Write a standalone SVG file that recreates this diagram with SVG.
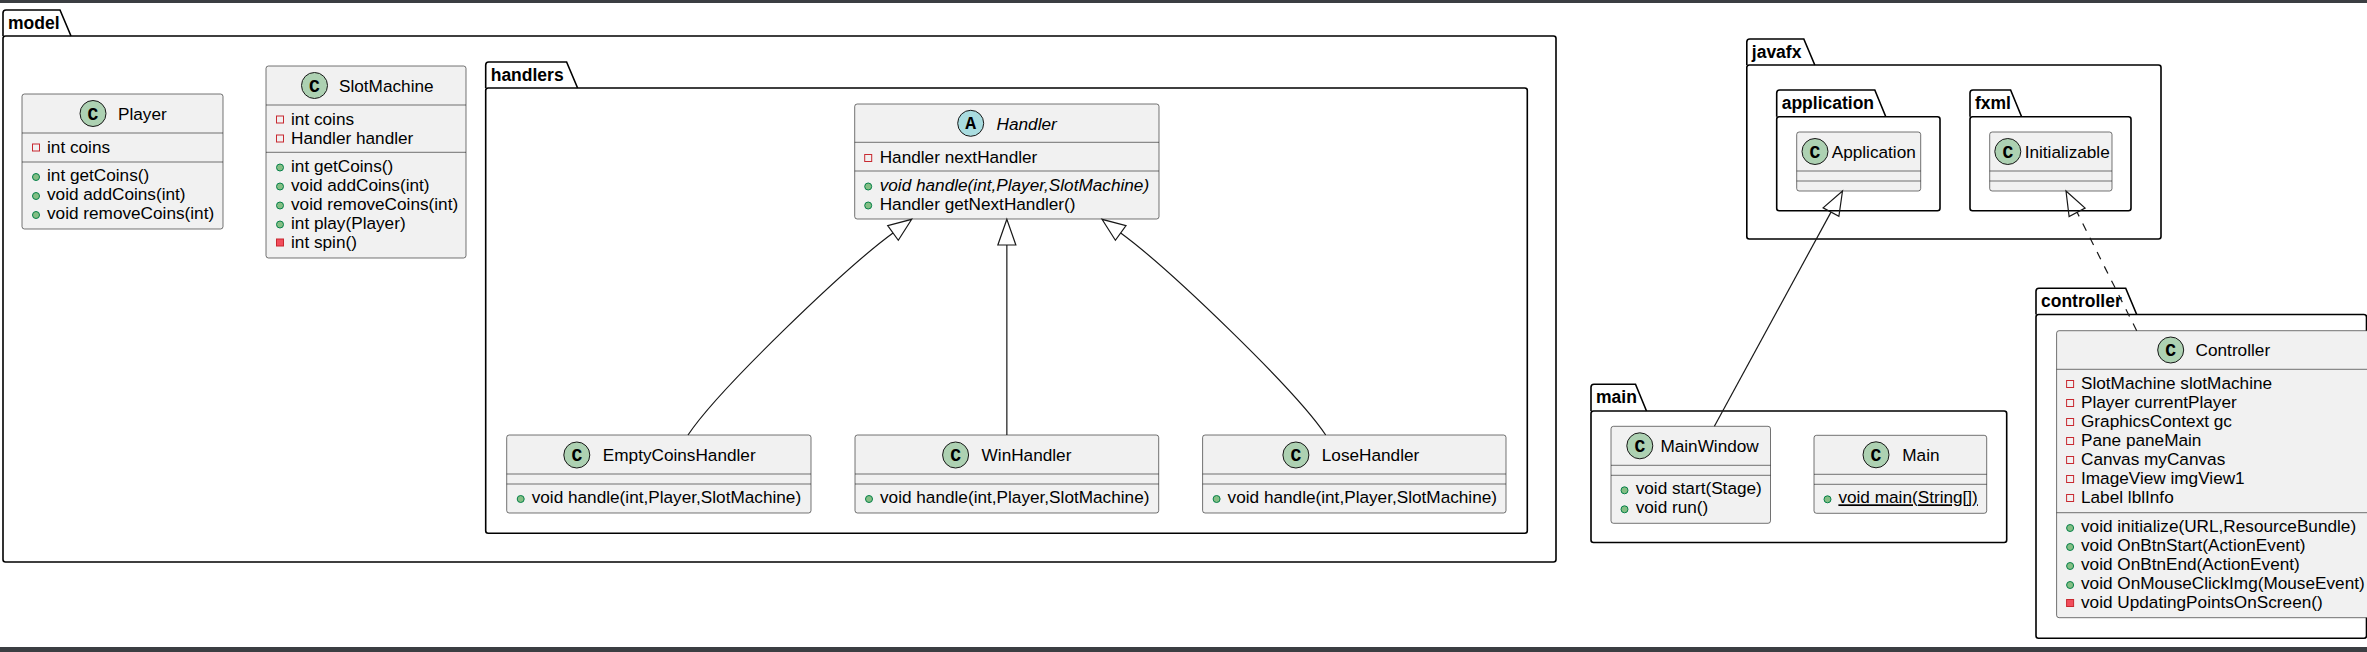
<svg xmlns="http://www.w3.org/2000/svg" width="2367" height="652" viewBox="0 0 2367 652">
<style>
.pkg{fill:none;stroke:#000;stroke-width:1.6}
.pl{font-family:"Liberation Sans",Arial,sans-serif;font-weight:bold;font-size:17.5px;fill:#000}
.box{fill:#F1F1F1;stroke:#181818;stroke-width:0.6}
.sep{stroke:#181818;stroke-width:0.6}
.t{font-family:"Liberation Sans",Arial,sans-serif;font-size:17.2px;fill:#000}
.i{font-style:italic}
.cc{fill:#ADD1B2;stroke:#181818;stroke-width:1}
.ca{fill:#A9DCDF;stroke:#181818;stroke-width:1}
.lt{font-family:"Liberation Mono","DejaVu Sans Mono",monospace;font-weight:bold;font-size:18px;fill:#000;text-anchor:middle}
.pf{fill:none;stroke:#C82930;stroke-width:1}
.pm{fill:#F24D5C;stroke:#C82930;stroke-width:1}
.pu{fill:#84BE84;stroke:#038048;stroke-width:1}
.edge{fill:none;stroke:#181818;stroke-width:1.2}
.dash{stroke-dasharray:8,8}
.head{fill:none;stroke:#181818;stroke-width:1.2}
.bar{fill:#3b3e42}
</style>
<rect x="0" y="0" width="2367" height="652" fill="#FFFFFF"/>
<rect class="bar" x="0" y="0" width="2367" height="3"/>
<rect class="bar" x="0" y="647" width="2367" height="5"/>

<g id="pkg-model">
<rect class="pkg" x="3" y="36" width="1553" height="526" rx="2.5"/>
<path class="pkg" d="M3,36 V13 Q3,10 6,10 H60 L71,36"/>
<text class="pl" x="8" y="28.5">model</text>
</g>
<g id="pkg-handlers">
<rect class="pkg" x="485.7" y="88" width="1041.6" height="445.3" rx="2.5"/>
<path class="pkg" d="M485.7,88 V65 Q485.7,62 488.7,62 H566.6 L577.6,88"/>
<text class="pl" x="490.7" y="80.5">handlers</text>
</g>
<g id="pkg-javafx">
<rect class="pkg" x="1746.8" y="65" width="414.2" height="174" rx="2.5"/>
<path class="pkg" d="M1746.8,65 V42 Q1746.8,39 1749.8,39 H1803.8 L1814.8,65"/>
<text class="pl" x="1751.8" y="57.5">javafx</text>
</g>
<g id="pkg-application">
<rect class="pkg" x="1776.7" y="116.7" width="163.3" height="94" rx="2.5"/>
<path class="pkg" d="M1776.7,116.7 V93 Q1776.7,90 1779.7,90 H1874.8 L1885.8,116.7"/>
<text class="pl" x="1781.7" y="108.5">application</text>
</g>
<g id="pkg-fxml">
<rect class="pkg" x="1970" y="116.7" width="161" height="94" rx="2.5"/>
<path class="pkg" d="M1970,116.7 V93 Q1970,90 1973,90 H2010.6 L2021.6,116.7"/>
<text class="pl" x="1975" y="108.5">fxml</text>
</g>
<g id="pkg-main">
<rect class="pkg" x="1591" y="411" width="415.7" height="131.5" rx="2.5"/>
<path class="pkg" d="M1591,411 V387.3 Q1591,384.3 1594,384.3 H1635.5 L1646.5,411"/>
<text class="pl" x="1596" y="402.8">main</text>
</g>
<g id="pkg-controller">
<rect class="pkg" x="2036" y="314.5" width="330.5" height="323.8" rx="2.5"/>
<path class="pkg" d="M2036,314.5 V291.3 Q2036,288.3 2039,288.3 H2125.7 L2136.7,314.5"/>
<text class="pl" x="2041" y="306.8">controller</text>
</g>

<g id="Player">
<rect class="box" x="22" y="94" width="201" height="135" rx="2.5"/>
<line class="sep" x1="22" y1="133" x2="223" y2="133"/>
<line class="sep" x1="22" y1="162" x2="223" y2="162"/>
<circle class="cc" cx="93" cy="113.5" r="13"/>
<text class="lt" x="93" y="119.5">C</text>
<text class="t" x="118" y="119.5">Player</text>
<rect class="pf" x="32.5" y="144" width="7" height="7"/>
<text class="t" x="47" y="152.5">int coins</text>
<circle class="pu" cx="36" cy="177" r="3.5"/>
<text class="t" x="47" y="181">int getCoins()</text>
<circle class="pu" cx="36" cy="196" r="3.5"/>
<text class="t" x="47" y="200">void addCoins(int)</text>
<circle class="pu" cx="36" cy="215" r="3.5"/>
<text class="t" x="47" y="219">void removeCoins(int)</text>
</g>

<g id="SlotMachine">
<rect class="box" x="266" y="66" width="200" height="192" rx="2.5"/>
<line class="sep" x1="266" y1="105" x2="466" y2="105"/>
<line class="sep" x1="266" y1="152.3" x2="466" y2="152.3"/>
<circle class="cc" cx="314.5" cy="85.5" r="13"/>
<text class="lt" x="314.5" y="91.5">C</text>
<text class="t" x="339" y="91.5">SlotMachine</text>
<rect class="pf" x="276.5" y="116" width="7" height="7"/>
<text class="t" x="291" y="124.5">int coins</text>
<rect class="pf" x="276.5" y="135" width="7" height="7"/>
<text class="t" x="291" y="143.5">Handler handler</text>
<circle class="pu" cx="280" cy="167.5" r="3.5"/>
<text class="t" x="291" y="171.5">int getCoins()</text>
<circle class="pu" cx="280" cy="186.5" r="3.5"/>
<text class="t" x="291" y="190.5">void addCoins(int)</text>
<circle class="pu" cx="280" cy="205.5" r="3.5"/>
<text class="t" x="291" y="209.5">void removeCoins(int)</text>
<circle class="pu" cx="280" cy="224.5" r="3.5"/>
<text class="t" x="291" y="228.5">int play(Player)</text>
<rect class="pm" x="276.5" y="239" width="7" height="7"/>
<text class="t" x="291" y="247.5">int spin()</text>
</g>

<g id="Handler">
<rect class="box" x="854.7" y="104" width="304.3" height="115" rx="2.5"/>
<line class="sep" x1="854.7" y1="142.3" x2="1159" y2="142.3"/>
<line class="sep" x1="854.7" y1="171" x2="1159" y2="171"/>
<circle class="ca" cx="970.7" cy="123.3" r="13"/>
<text class="lt" x="970.7" y="129.3">A</text>
<text class="t i" x="996.6" y="129.5">Handler</text>
<rect class="pf" x="864.7" y="154.5" width="7" height="7"/>
<text class="t" x="879.7" y="162.5">Handler nextHandler</text>
<circle class="pu" cx="868.2" cy="186.5" r="3.5"/>
<text class="t i" x="879.7" y="190.5">void handle(int,Player,SlotMachine)</text>
<circle class="pu" cx="868.2" cy="205.5" r="3.5"/>
<text class="t" x="879.7" y="209.5">Handler getNextHandler()</text>
</g>

<g id="EmptyCoinsHandler">
<rect class="box" x="506.7" y="435" width="304.3" height="78" rx="2.5"/>
<line class="sep" x1="506.7" y1="474" x2="811" y2="474"/>
<line class="sep" x1="506.7" y1="484" x2="811" y2="484"/>
<circle class="cc" cx="576.8" cy="455" r="13"/>
<text class="lt" x="576.8" y="461">C</text>
<text class="t" x="602.8" y="461">EmptyCoinsHandler</text>
<circle class="pu" cx="520.7" cy="499" r="3.5"/>
<text class="t" x="531.7" y="503">void handle(int,Player,SlotMachine)</text>
</g>

<g id="WinHandler">
<rect class="box" x="855" y="435" width="303.7" height="78" rx="2.5"/>
<line class="sep" x1="855" y1="474" x2="1158.7" y2="474"/>
<line class="sep" x1="855" y1="484" x2="1158.7" y2="484"/>
<circle class="cc" cx="955.6" cy="455" r="13"/>
<text class="lt" x="955.6" y="461">C</text>
<text class="t" x="981.6" y="461">WinHandler</text>
<circle class="pu" cx="869" cy="499" r="3.5"/>
<text class="t" x="880" y="503">void handle(int,Player,SlotMachine)</text>
</g>

<g id="LoseHandler">
<rect class="box" x="1202.6" y="435" width="303.4" height="78" rx="2.5"/>
<line class="sep" x1="1202.6" y1="474" x2="1506" y2="474"/>
<line class="sep" x1="1202.6" y1="484" x2="1506" y2="484"/>
<circle class="cc" cx="1295.9" cy="455" r="13"/>
<text class="lt" x="1295.9" y="461">C</text>
<text class="t" x="1321.8" y="461">LoseHandler</text>
<circle class="pu" cx="1216.6" cy="499" r="3.5"/>
<text class="t" x="1227.6" y="503">void handle(int,Player,SlotMachine)</text>
</g>

<g id="Application">
<rect class="box" x="1796.7" y="132" width="124" height="59" rx="2.5"/>
<line class="sep" x1="1796.7" y1="171" x2="1920.7" y2="171"/>
<line class="sep" x1="1796.7" y1="181" x2="1920.7" y2="181"/>
<circle class="cc" cx="1815" cy="151.5" r="13"/>
<text class="lt" x="1815" y="157.5">C</text>
<text class="t" x="1831.7" y="157.5">Application</text>
</g>

<g id="Initializable">
<rect class="box" x="1989.7" y="132" width="122.3" height="59" rx="2.5"/>
<line class="sep" x1="1989.7" y1="171" x2="2112" y2="171"/>
<line class="sep" x1="1989.7" y1="181" x2="2112" y2="181"/>
<circle class="cc" cx="2007.8" cy="151.5" r="13"/>
<text class="lt" x="2007.8" y="157.5">C</text>
<text class="t" x="2024.7" y="157.5">Initializable</text>
</g>

<g id="MainWindow">
<rect class="box" x="1611" y="426.3" width="159.5" height="97" rx="2.5"/>
<line class="sep" x1="1611" y1="465.3" x2="1770.5" y2="465.3"/>
<line class="sep" x1="1611" y1="475.3" x2="1770.5" y2="475.3"/>
<circle class="cc" cx="1639.8" cy="445.8" r="13"/>
<text class="lt" x="1639.8" y="451.8">C</text>
<text class="t" x="1660.4" y="452">MainWindow</text>
<circle class="pu" cx="1624.5" cy="490.3" r="3.5"/>
<text class="t" x="1635.7" y="494.3">void start(Stage)</text>
<circle class="pu" cx="1624.5" cy="509.3" r="3.5"/>
<text class="t" x="1635.7" y="513.3">void run()</text>
</g>

<g id="Main">
<rect class="box" x="1814" y="435.3" width="172.7" height="78" rx="2.5"/>
<line class="sep" x1="1814" y1="474.3" x2="1986.7" y2="474.3"/>
<line class="sep" x1="1814" y1="484.3" x2="1986.7" y2="484.3"/>
<circle class="cc" cx="1876" cy="454.8" r="13"/>
<text class="lt" x="1876" y="460.8">C</text>
<text class="t" x="1902.3" y="461">Main</text>
<circle class="pu" cx="1827.5" cy="499.3" r="3.5"/>
<text class="t" x="1838.4" y="503.3" text-decoration="underline">void main(String[])</text>
</g>

<g id="Controller">
<rect class="box" x="2056.6" y="330.7" width="320" height="287" rx="2.5"/>
<line class="sep" x1="2056.6" y1="369.3" x2="2376.6" y2="369.3"/>
<line class="sep" x1="2056.6" y1="512.7" x2="2376.6" y2="512.7"/>
<circle class="cc" cx="2170.7" cy="350" r="13"/>
<text class="lt" x="2170.7" y="356">C</text>
<text class="t" x="2195.6" y="356">Controller</text>
<rect class="pf" x="2066.6" y="380.5" width="7" height="7"/>
<text class="t" x="2081" y="389">SlotMachine slotMachine</text>
<rect class="pf" x="2066.6" y="399.5" width="7" height="7"/>
<text class="t" x="2081" y="408">Player currentPlayer</text>
<rect class="pf" x="2066.6" y="418.5" width="7" height="7"/>
<text class="t" x="2081" y="427">GraphicsContext gc</text>
<rect class="pf" x="2066.6" y="437.5" width="7" height="7"/>
<text class="t" x="2081" y="446">Pane paneMain</text>
<rect class="pf" x="2066.6" y="456.5" width="7" height="7"/>
<text class="t" x="2081" y="465">Canvas myCanvas</text>
<rect class="pf" x="2066.6" y="475.5" width="7" height="7"/>
<text class="t" x="2081" y="484">ImageView imgView1</text>
<rect class="pf" x="2066.6" y="494.5" width="7" height="7"/>
<text class="t" x="2081" y="503">Label lblInfo</text>
<circle class="pu" cx="2070.1" cy="528" r="3.5"/>
<text class="t" x="2081" y="532">void initialize(URL,ResourceBundle)</text>
<circle class="pu" cx="2070.1" cy="547" r="3.5"/>
<text class="t" x="2081" y="551">void OnBtnStart(ActionEvent)</text>
<circle class="pu" cx="2070.1" cy="566" r="3.5"/>
<text class="t" x="2081" y="570">void OnBtnEnd(ActionEvent)</text>
<circle class="pu" cx="2070.1" cy="585" r="3.5"/>
<text class="t" x="2081" y="589">void OnMouseClickImg(MouseEvent)</text>
<rect class="pm" x="2066.6" y="599.5" width="7" height="7"/>
<text class="t" x="2081" y="608">void UpdatingPointsOnScreen()</text>
</g>

<g id="connectors">
<path class="edge" d="M688,435 C718,390 844.6,268.4 893,233"/>
<polygon class="head" points="911.7,219.3 898.3,240.3 887.7,225.7"/>
<path class="edge" d="M1006.85,435 L1006.85,245"/>
<polygon class="head" points="1006.85,219.3 997.85,245 1015.85,245"/>
<path class="edge" d="M1325.7,435 C1295.7,390 1169.1,268.4 1120.7,233"/>
<polygon class="head" points="1102,219.3 1115.4,240.3 1126,225.7"/>
<path class="edge" d="M1714.4,426.3 L1831,212.1"/>
<polygon class="head" points="1842.5,191 1838.9,216.4 1823.1,207.8"/>
<path class="edge dash" d="M2136.7,330.7 L2077.1,212.3"/>
<polygon class="head" points="2066,191 2085.1,208.1 2069.1,216.5"/>
</g>
</svg>
